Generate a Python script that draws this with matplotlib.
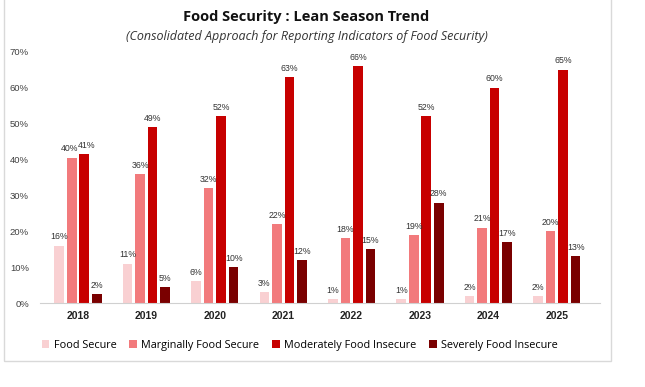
import numpy as np
import matplotlib
matplotlib.use("Agg")
import matplotlib.pyplot as plt
from matplotlib.patches import Rectangle

years = ["2018", "2019", "2020", "2021", "2022", "2023", "2024", "2025"]
series_names = ["Food Secure", "Marginally Food Secure",
                "Moderately Food Insecure", "Severely Food Insecure"]
food_secure = [16, 11, 6, 3, 1, 1, 2, 2]
marginal = [40.5, 36, 32, 22, 18, 19, 21, 20]
moderate = [41.5, 49, 52, 63, 66, 52, 60, 65]
severe = [2.5, 4.5, 10, 12, 15, 28, 17, 13]
labels = [
    ["16%", "11%", "6%", "3%", "1%", "1%", "2%", "2%"],
    ["40%", "36%", "32%", "22%", "18%", "19%", "21%", "20%"],
    ["41%", "49%", "52%", "63%", "66%", "52%", "60%", "65%"],
    ["2%", "5%", "10%", "12%", "15%", "28%", "17%", "13%"],
]
colors = ["#F9D0D2", "#F27A7C", "#C70000", "#7A0000"]

plt.rcParams["font.family"] = ["Liberation Sans", "DejaVu Sans"]

fig = plt.figure(figsize=(6.45, 3.87), dpi=100)
fig.patches.append(Rectangle((0.006, 0.066), 0.942, 0.94, transform=fig.transFigure,
                             fill=False, edgecolor="#D9D9D9", linewidth=1))

ax = fig.add_axes([0.062, 0.217, 0.868, 0.649])
x = np.arange(len(years))
step = 0.183
width = 0.14
all_series = [food_secure, marginal, moderate, severe]
for i, vals in enumerate(all_series):
    pos = x + (i - 1.5) * step
    ax.bar(pos, vals, width=width, color=colors[i], label=series_names[i])
    for j, (px, v, t) in enumerate(zip(pos, vals, labels[i])):
        # nudge labels apart where neighbouring bars are nearly equal
        dx = 0
        if i == 1 and abs(moderate[j] - v) < 3:
            dx = -0.03
        if i == 2 and abs(marginal[j] - v) < 3:
            dx = 0.04
        ax.text(px + dx, v + 1.2, t, ha="center", va="bottom", fontsize=6.3, color="#333333")

ax.set_ylim(0, 70)
ax.set_xlim(-0.556, 7.63)
ax.set_yticks(range(0, 71, 10))
ax.set_yticklabels([f"{v}%" for v in range(0, 71, 10)], fontsize=6.8, color="#404040")
ax.set_xticks(x)
ax.set_xticklabels(years, fontsize=7.5, fontweight="bold", color="#222222")
ax.tick_params(length=0, pad=6)
ax.tick_params(axis="y", pad=8)
for s in ["top", "right", "left"]:
    ax.spines[s].set_visible(False)
ax.spines["bottom"].set_color("#D0D0D0")

fig.text(0.475, 0.955, "Food Security : Lean Season Trend", ha="center", va="center",
         fontsize=10.5, fontweight="bold", family=["Open Sans", "DejaVu Sans"], color="#111111")
fig.text(0.475, 0.905, "(Consolidated Approach for Reporting Indicators of Food Security)",
         ha="center", va="center", fontsize=9, style="italic",
         family=["Open Sans", "DejaVu Sans"], color="#333333")

fig.legend(loc="center", bbox_to_anchor=(0.465, 0.108), ncol=4, frameon=False,
           handlelength=0.7, handleheight=0.7, handletextpad=0.4,
           columnspacing=1.2, prop={"family": ["Open Sans", "DejaVu Sans"], "size": 7.8})

fig.savefig("out.png", dpi=100, facecolor="white")
